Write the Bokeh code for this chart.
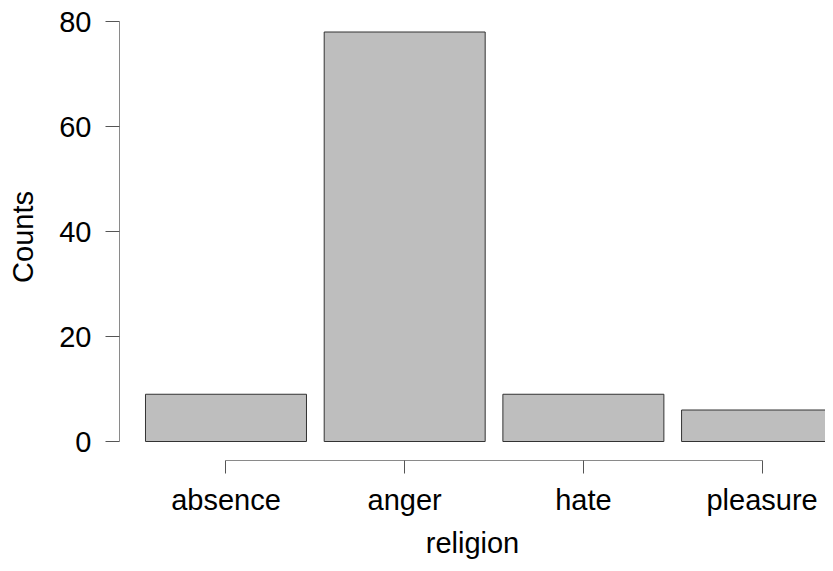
from bokeh.plotting import figure
from bokeh.models import FixedTicker, Range1d, ColumnDataSource
from bokeh.embed import file_html
from bokeh.resources import INLINE

categories = ["absence", "anger", "hate", "pleasure"]
counts = [9, 78, 9, 6]
y_ticks = [0, 20, 40, 60, 80]
x_title = "religion"
y_title = "Counts"

xs = list(range(len(categories)))
src = ColumnDataSource(dict(x=xs, top=counts, cat=categories))

FONT = "Liberation Sans"
FS = "29px"

p = figure(width=825, height=563, output_backend="svg", toolbar_location=None,
           x_range=Range1d(-0.596, 3.355), y_range=Range1d(-3.619, 81.524),
           min_border_left=119, min_border_right=0, min_border_top=13, min_border_bottom=103,
           x_axis_label=x_title, y_axis_label=y_title)
p.outline_line_color = None
p.grid.visible = False
p.background_fill_color = "white"
p.border_fill_color = "white"

p.vbar(x="x", top="top", bottom=0, width=0.901, source=src,
       fill_color="#bebebe", line_color="#333333", line_width=1)

# y axis
ya = p.yaxis[0]
ya.ticker = FixedTicker(ticks=y_ticks)
ya.bounds = (min(y_ticks), max(y_ticks))
ya.major_tick_out = 14
ya.major_tick_in = 0
ya.minor_tick_out = 0
ya.minor_tick_in = 0
ya.major_label_orientation = "horizontal"
ya.major_label_standoff = 14
ya.axis_label_standoff = 17
ya.axis_line_color = "#8a8a8a"
ya.major_tick_line_color = "#555555"

# x axis
xa = p.xaxis[0]
xa.ticker = FixedTicker(ticks=xs)
xa.bounds = (min(xs), max(xs))
xa.major_label_overrides = {i: c for i, c in zip(xs, categories)}
xa.major_tick_out = 13
xa.major_tick_in = 0
xa.minor_tick_out = 0
xa.minor_tick_in = 0
xa.major_label_standoff = 10
xa.axis_label_standoff = 8
xa.axis_line_color = "#8a8a8a"
xa.major_tick_line_color = "#555555"

for ax in (xa, ya):
    ax.major_label_text_font = FONT
    ax.major_label_text_font_size = FS
    ax.major_label_text_color = "black"
    ax.axis_label_text_font = FONT
    ax.axis_label_text_font_size = FS
    ax.axis_label_text_font_style = "normal"
    ax.axis_label_text_color = "black"

open("out.html", "w").write(file_html(p, INLINE))
